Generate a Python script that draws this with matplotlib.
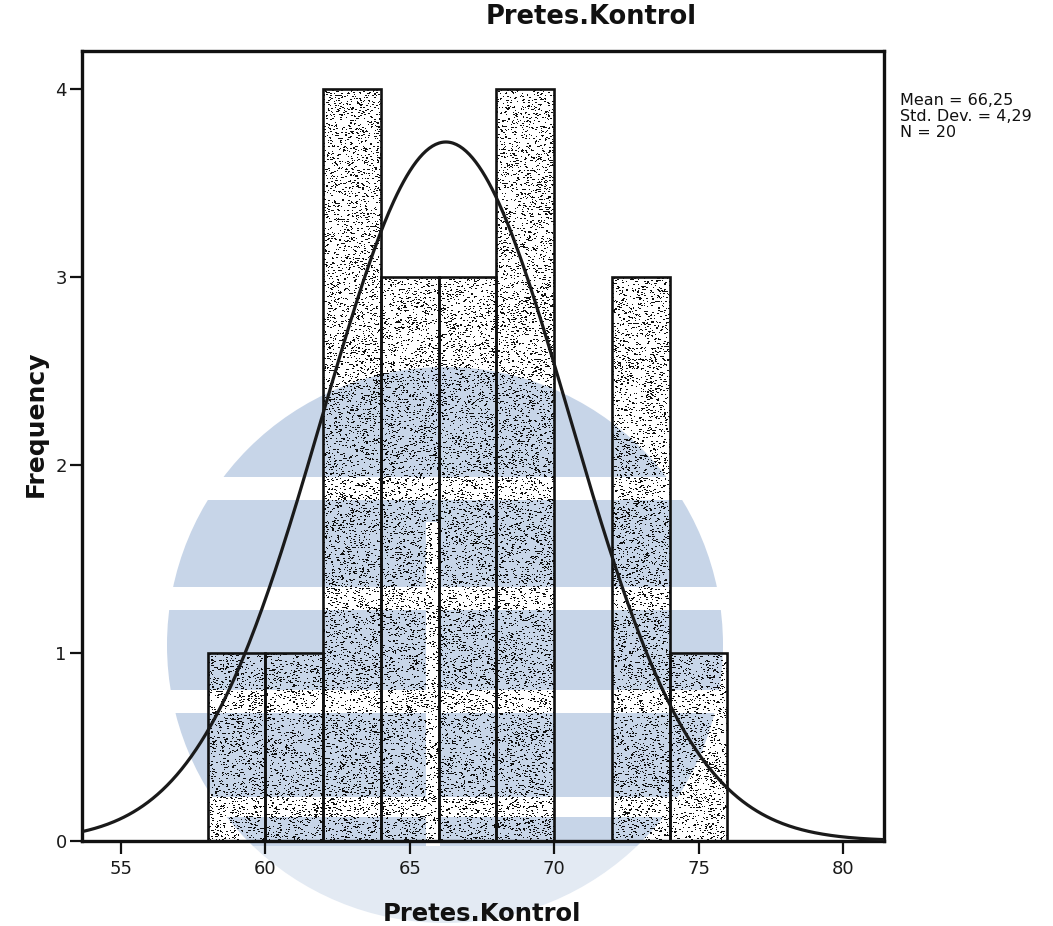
import numpy as np
import matplotlib
matplotlib.use("Agg")
import matplotlib.pyplot as plt
from matplotlib.patches import Circle, Rectangle

# Histogram of the control-group pretest scores
bin_edges = [58, 60, 62, 64, 66, 68, 70, 72, 74, 76]
counts = [1, 1, 4, 3, 3, 4, 0, 3, 1]
mean_val = 66.25
std_val = 4.29
n_obs = 20
x_ticks = [55, 60, 65, 70, 75, 80]
y_ticks = [0, 1, 2, 3, 4]
title_text = "Pretes.Kontrol"
x_label = "Pretes.Kontrol"
y_label = "Frequency"

W, H = 1053, 926
fig = plt.figure(figsize=(W / 100, H / 100), dpi=100)
fig.patch.set_facecolor("white")

# Pale emblem printed behind the chart (pixel coordinates, y downward)
bg = fig.add_axes([0, 0, 1, 1], zorder=0)
bg.set_xlim(0, W)
bg.set_ylim(H, 0)
bg.axis("off")
emblem_blue = "#c7d5e8"
bg.add_patch(Circle((445, 645), 278, color=emblem_blue, lw=0))
for y0, hgt in [(477, 23), (587, 23), (690, 23), (797, 20)]:
    bg.add_patch(Rectangle((0, y0), W, hgt, color="white", lw=0))
bg.add_patch(Rectangle((426, 522), 14, 846 - 522, color="white", lw=0))
bg.add_patch(Rectangle((0, 846), W, H - 846, color="white", alpha=0.5, lw=0))

# Main histogram axes
left_px, right_px, top_px, bottom_px = 82, 884, 51, 841
ax = fig.add_axes([left_px / W, 1 - bottom_px / H,
                   (right_px - left_px) / W, (bottom_px - top_px) / H], zorder=1)
ax.set_facecolor("none")
xlim = (53.65, 81.42)
ylim = (0, 4.204)

bin_width = bin_edges[1] - bin_edges[0]
bars = ax.bar(bin_edges[:-1], counts, width=bin_width, align="edge",
              fill=False, edgecolor="#111111", linewidth=1.9, zorder=3)

# Stippled fill for each bar
px_per_x = (right_px - left_px) / (xlim[1] - xlim[0])
px_per_y = (bottom_px - top_px) / (ylim[1] - ylim[0])
rng = np.random.default_rng(11)
for rect in bars:
    h = rect.get_height()
    if h <= 0:
        continue
    x0 = rect.get_x()
    w = rect.get_width()
    rows = max(1, int(round(h * px_per_y)))
    cols = max(1, int(round(w * px_per_x)))
    seed = rng.random((rows, cols)) < 0.11
    grow = rng.random((rows, cols)) < 0.5
    dots = seed | (np.roll(seed, 1, axis=1) & grow)
    tex = np.zeros((rows, cols, 4))
    tex[..., 0:3] = 0.06
    tex[..., 3] = dots.astype(float)
    ax.imshow(tex, extent=(x0, x0 + w, 0, h), origin="lower",
              interpolation="nearest", aspect="auto", zorder=2)

# Fitted normal curve scaled to the counts
xs = np.linspace(xlim[0], xlim[1], 500)
ys = n_obs * bin_width * np.exp(-0.5 * ((xs - mean_val) / std_val) ** 2) / (std_val * np.sqrt(2 * np.pi))
ax.plot(xs, ys, color="#1a1a1a", lw=2.3, zorder=4)

ax.set_xlim(*xlim)
ax.set_ylim(*ylim)
ax.set_xticks(x_ticks)
ax.set_yticks(y_ticks)
ax.set_xticklabels([str(t) for t in x_ticks])
ax.set_yticklabels([str(t) for t in y_ticks])
for sp in ax.spines.values():
    sp.set_linewidth(2.4)
    sp.set_color("#111111")
ax.tick_params(axis="both", direction="out", length=9, width=1.6,
               color="#111111", labelsize=13, labelcolor="#1a1a1a")
ax.tick_params(axis="x", pad=5)
ax.tick_params(axis="y", pad=2)
for lab in ax.get_xticklabels() + ax.get_yticklabels():
    lab.set_family("DejaVu Sans")

# Titles and labels
fig.text(591 / W, 1 - 24 / H, title_text, ha="center", va="baseline",
         fontsize=18.5, fontweight="bold", family="DejaVu Sans", color="#111111")
fig.text(482 / W, 1 - 921 / H, x_label, ha="center", va="baseline",
         fontsize=17.5, fontweight="bold", family="DejaVu Sans", color="#111111")
fig.text(43 / W, 1 - 424 / H, y_label, ha="center", va="baseline",
         rotation=90, rotation_mode="anchor",
         fontsize=18, fontweight="bold", family="DejaVu Sans", color="#111111")

# Summary statistics
def comma(v):
    return f"{v:.2f}".replace(".", ",")

stats_lines = [f"Mean = {comma(mean_val)}",
               f"Std. Dev. = {comma(std_val)}",
               f"N = {n_obs}"]
for i, line in enumerate(stats_lines):
    fig.text(900 / W, 1 - (105 + 16 * i) / H, line, ha="left", va="baseline",
             fontsize=11.5, family="DejaVu Sans", color="#111111")

fig.savefig("out.png", dpi=100)
